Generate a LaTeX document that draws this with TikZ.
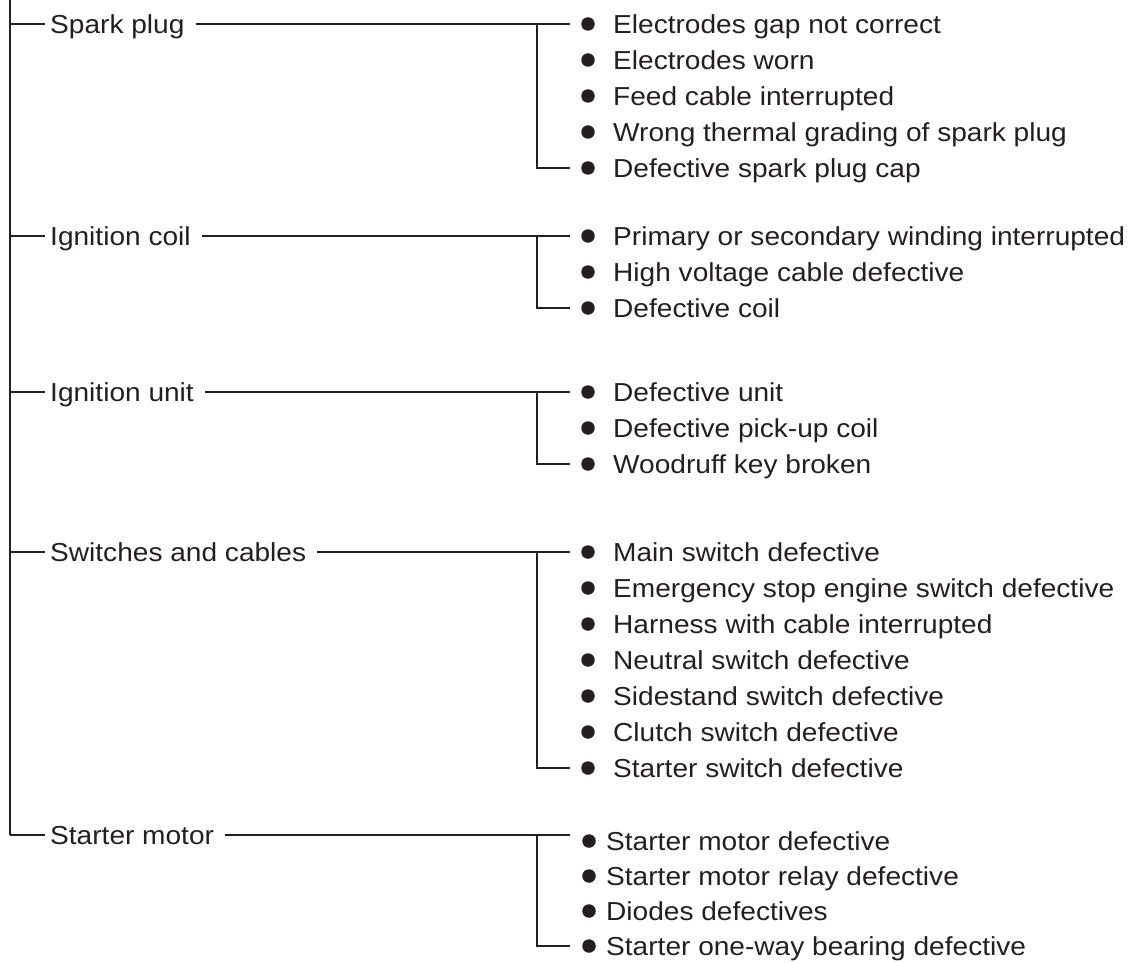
\documentclass[tikz,border=0pt]{standalone}
\usepackage{fontspec}
\setmainfont{Liberation Sans}[FakeStretch=1.08]
\definecolor{ink}{HTML}{231F20}
\tikzset{
  txt/.style={anchor=base west, inner sep=0pt, text=ink, font=\fontsize{26}{30}\selectfont},
  dot/.style={circle, fill=ink, draw=none, minimum size=13.5pt, inner sep=0pt},
  conn/.style={draw=ink, line width=1.3pt},
}
\begin{document}
\begin{tikzpicture}[x=1pt, y=-1pt]
\useasboundingbox (0,0) rectangle (1133,963);
% trunk
\coordinate (top) at (10,0);
\coordinate (t1) at (10,24);
\coordinate (t2) at (10,236);
\coordinate (t3) at (10,392);
\coordinate (t4) at (10,552);
\coordinate (t5) at (10,835);
\draw[conn] (top) -- (t5);
% group labels
\node[txt] (g1) at (50,33.3) {Spark plug};
\node[txt] (g2) at (50,245.3) {Ignition coil};
\node[txt] (g3) at (50,401.3) {Ignition unit};
\node[txt] (g4) at (50,561.3) {Switches and cables};
\node[txt] (g5) at (50,844.3) {Starter motor};
% bracket coordinates
\coordinate (k1) at (537,24);  \coordinate (e1) at (570,24);  \coordinate (f1) at (570,168);
\coordinate (k2) at (537,236); \coordinate (e2) at (570,236); \coordinate (f2) at (570,308);
\coordinate (k3) at (537,392); \coordinate (e3) at (570,392); \coordinate (f3) at (570,464);
\coordinate (k4) at (537,552); \coordinate (e4) at (570,552); \coordinate (f4) at (570,768);
\coordinate (k5) at (537,835); \coordinate (e5) at (570,835); \coordinate (f5) at (570,946);
% branches
\foreach \i in {1,...,5}{
  \draw[conn, shorten >=5pt] (t\i) -- (t\i -| g\i.west);
  \draw[conn, shorten <=11pt] (g\i.east |- e\i) -- (e\i);
  \draw[conn] (k\i) |- (f\i);
}
% items group 1
\node[dot] (d11) at (588,24) {};  \node[txt] (i11) at (613,33.3) {Electrodes gap not correct};
\node[dot] (d12) at (588,60) {};  \node[txt] (i12) at (613,69.3) {Electrodes worn};
\node[dot] (d13) at (588,96) {};  \node[txt] (i13) at (613,105.3) {Feed cable interrupted};
\node[dot] (d14) at (588,132) {}; \node[txt] (i14) at (613,141.3) {Wrong thermal grading of spark plug};
\node[dot] (d15) at (588,168) {}; \node[txt] (i15) at (613,177.3) {Defective spark plug cap};
% items group 2
\node[dot] (d21) at (588,236) {}; \node[txt] (i21) at (613,245.3) {Primary or secondary winding interrupted};
\node[dot] (d22) at (588,272) {}; \node[txt] (i22) at (613,281.3) {High voltage cable defective};
\node[dot] (d23) at (588,308) {}; \node[txt] (i23) at (613,317.3) {Defective coil};
% items group 3
\node[dot] (d31) at (588,392) {}; \node[txt] (i31) at (613,401.3) {Defective unit};
\node[dot] (d32) at (588,428) {}; \node[txt] (i32) at (613,437.3) {Defective pick-up coil};
\node[dot] (d33) at (588,464) {}; \node[txt] (i33) at (613,473.3) {Woodruff key broken};
% items group 4
\node[dot] (d41) at (588,552) {}; \node[txt] (i41) at (613,561.3) {Main switch defective};
\node[dot] (d42) at (588,588) {}; \node[txt] (i42) at (613,597.3) {Emergency stop engine switch defective};
\node[dot] (d43) at (588,624) {}; \node[txt] (i43) at (613,633.3) {Harness with cable interrupted};
\node[dot] (d44) at (588,660) {}; \node[txt] (i44) at (613,669.3) {Neutral switch defective};
\node[dot] (d45) at (588,696) {}; \node[txt] (i45) at (613,705.3) {Sidestand switch defective};
\node[dot] (d46) at (588,732) {}; \node[txt] (i46) at (613,741.3) {Clutch switch defective};
\node[dot] (d47) at (588,768) {}; \node[txt] (i47) at (613,777.3) {Starter switch defective};
% items group 5
\node[dot] (d51) at (589,841) {}; \node[txt] (i51) at (606,850.3) {Starter motor defective};
\node[dot] (d52) at (589,876) {}; \node[txt] (i52) at (606,885.3) {Starter motor relay defective};
\node[dot] (d53) at (589,911) {}; \node[txt] (i53) at (606,920.3) {Diodes defectives};
\node[dot] (d54) at (589,946) {}; \node[txt] (i54) at (606,955.3) {Starter one-way bearing defective};
\end{tikzpicture}
\end{document}
